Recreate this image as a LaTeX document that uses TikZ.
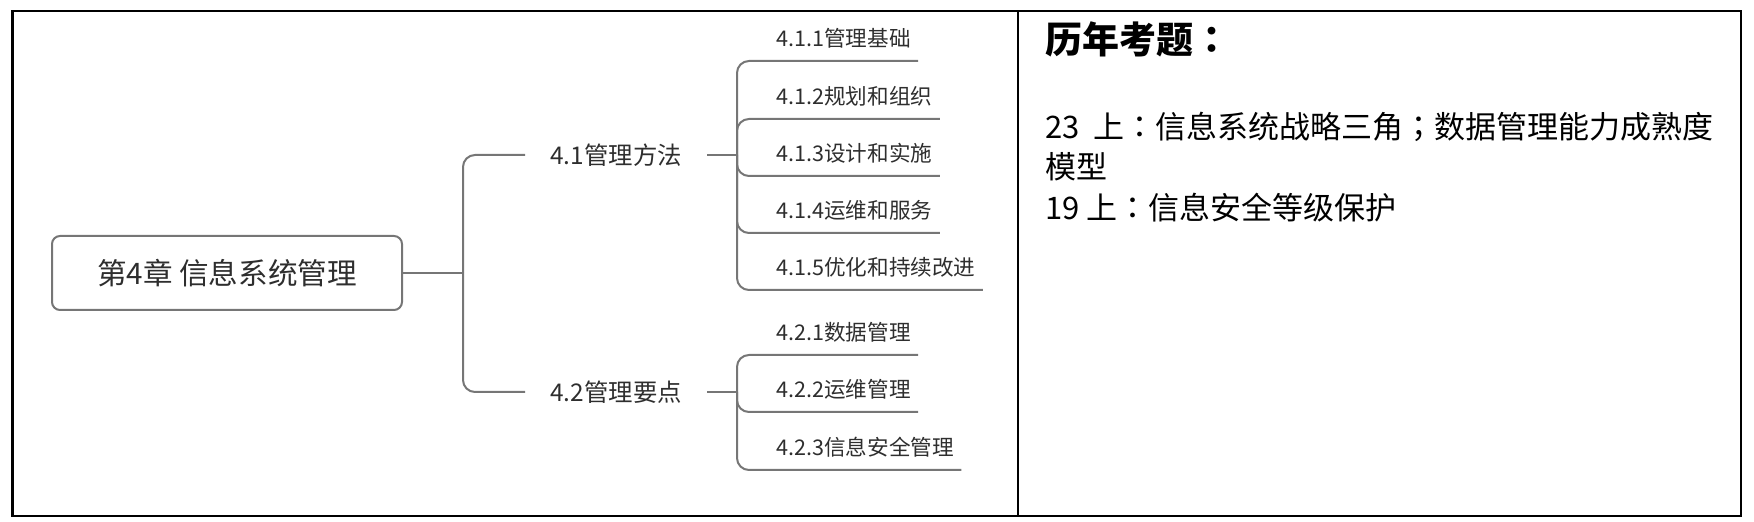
\documentclass[tikz,border=0pt]{standalone}
\usepackage{fontspec}
\setmainfont{Noto Sans CJK SC}
\newfontfamily\tcpunct{Noto Sans CJK TC}
\usepackage{xcolor}
\usetikzlibrary{positioning, calc}
\definecolor{linegray}{HTML}{767676}
\definecolor{textgray}{HTML}{2E2E2E}
\newcommand{\mcolon}{{\tcpunct ：}}
\newcommand{\msemi}{{\tcpunct ；}}
\tikzstyle{conn} = [draw=linegray, line width=1pt, rounded corners=6pt]
\tikzstyle{rootbox} = [draw=linegray, line width=1pt, rounded corners=4pt, minimum width=175pt, minimum height=37pt, font=\fontsize{14.8}{18}\selectfont, text=textgray]
\tikzstyle{topic} = [anchor=west, inner xsep=12.5pt, inner ysep=0pt, font=\fontsize{12.2}{15}\selectfont, text=textgray]
\tikzstyle{leaf} = [anchor=west, inner sep=0pt, font=\fontsize{10.8}{13}\selectfont, text=textgray]
\tikzstyle{note} = [anchor=west, inner sep=0pt, font=\fontsize{15.5}{18}\selectfont]

\begin{document}
\begin{tikzpicture}[x=0.5pt, y=-0.5pt]
    \useasboundingbox (0,0) rectangle (1754,522);

    % Marco
    \draw[line width=1.3pt] (12.7,11) rectangle (1741,516);
    \draw[line width=1.3pt] (1018,11) -- (1018,516);

    % Raiz
    \node[rootbox] (root) at (227,273) {第4章 信息系统管理};
    \coordinate (f0) at (463,273);
    \draw[conn] (root.east) -- (f0);

    % Primer nivel
    \node[topic] (m41) at (525,155) {4.1管理方法};
    \node[topic] (m42) at (525,392) {4.2管理要点};
    \draw[conn] (f0) |- (m41.west);
    \draw[conn] (f0) |- (m42.west);

    % Hojas 4.1
    \coordinate (f1) at (737,155);
    \draw[conn] (m41.east) -- (f1);
    \foreach \i/\y/\label in {1/38/4.1.1管理基础, 2/96/4.1.2规划和组织, 3/153/4.1.3设计和实施, 4/210/4.1.4运维和服务, 5/267/4.1.5优化和持续改进} {
        \node[leaf] (a\i) at (776,\y) {\label};
        \draw[conn] (f1) |- ($(a\i.east)+(7,23)$);
    }

    % Hojas 4.2
    \coordinate (f2) at (737,392);
    \draw[conn] (m42.east) -- (f2);
    \foreach \i/\y/\label in {1/332/4.2.1数据管理, 2/389/4.2.2运维管理, 3/447/4.2.3信息安全管理} {
        \node[leaf] (b\i) at (776,\y) {\label};
        \draw[conn] (f2) |- ($(b\i.east)+(7,23)$);
    }

    % Historial
    \node[note, font=\fontsize{18.5}{22}\selectfont\bfseries] (title) at (1045,39) {历年考题\mcolon};
    \node[note] (q1) at (1045,127) {23\ \ 上\mcolon 信息系统战略三角\msemi 数据管理能力成熟度};
    \node[note] (q2) at (1045,167) {模型};
    \node[note] (q3) at (1045,208) {19 上\mcolon 信息安全等级保护};
\end{tikzpicture}
\end{document}
